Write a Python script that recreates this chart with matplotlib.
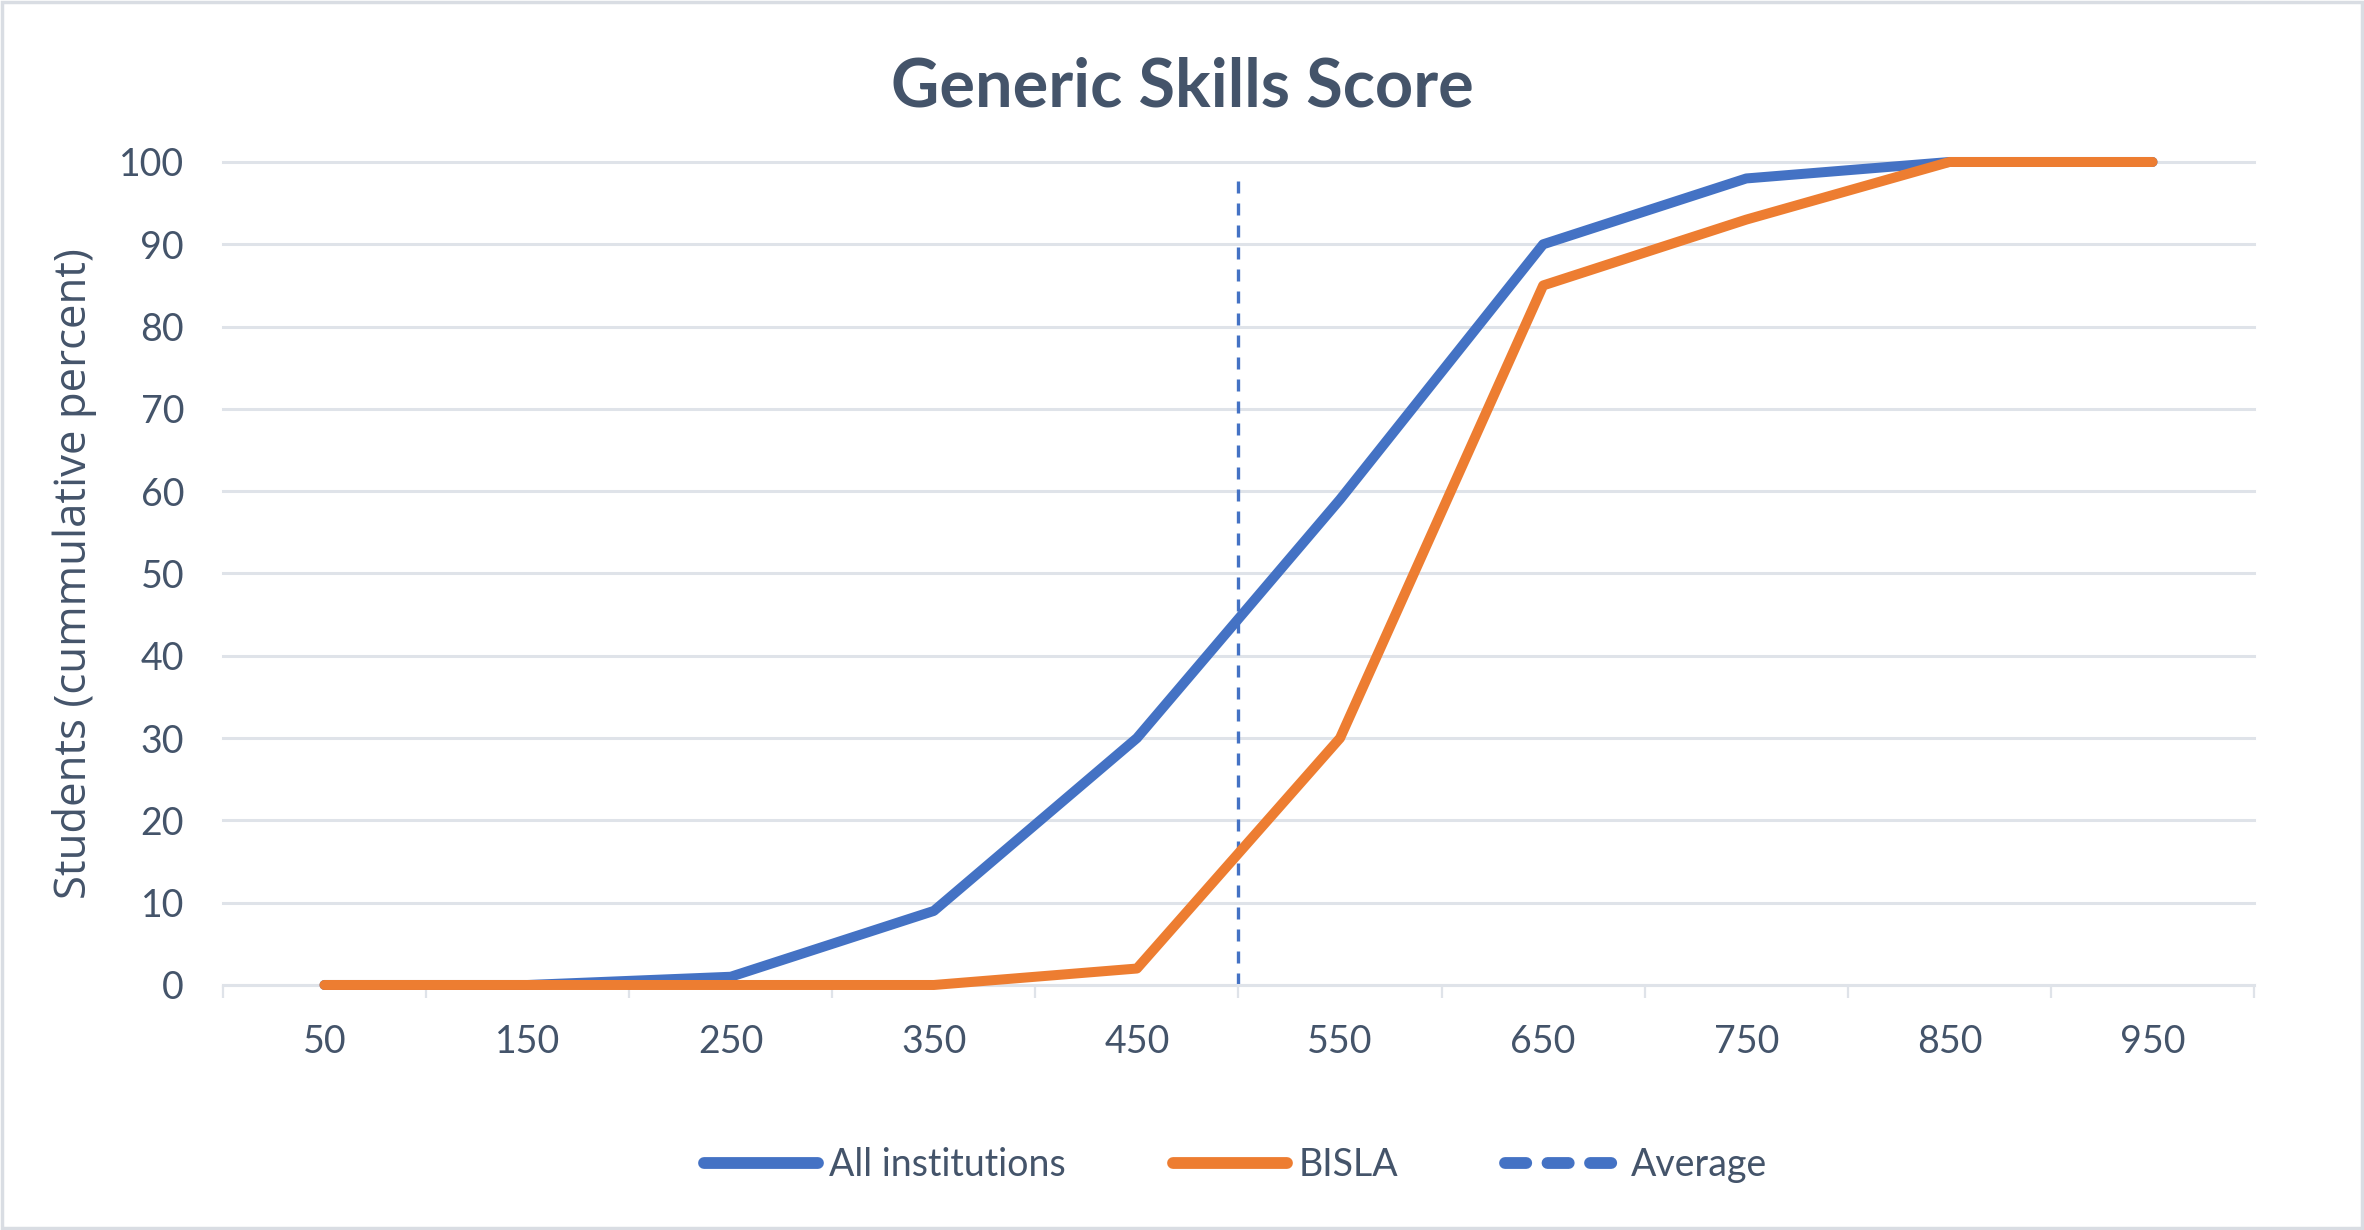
import matplotlib.pyplot as plt
from matplotlib import font_manager
from matplotlib.lines import Line2D
from matplotlib.patches import Rectangle

# score bands (category axis) and cumulative percent of students
scores = ['50', '150', '250', '350', '450', '550', '650', '750', '850', '950']
all_institutions = [0, 0, 1, 9, 30, 59, 90, 98, 100, 100]
bisla = [0, 0, 0, 0, 2, 30, 85, 93, 100, 100]
avg_score = 500
avg_top = 98

blue = '#4472C4'
orange = '#ED7D31'
text_col = '#44546A'
grid_col = '#DFE3E9'

# Calibri is not around; Lato (what Carlito is built on) is the closest
installed = {f.name for f in font_manager.fontManager.ttflist}
main_font = 'Lato' if 'Lato' in installed else 'DejaVu Sans'
plt.rcParams['font.family'] = [main_font, 'DejaVu Sans']

fig = plt.figure(figsize=(23.64, 12.30), dpi=100)
ax = fig.add_axes([0.0943, 0.1992, 0.8592, 0.6691])

x = list(range(len(scores)))
ax.plot(x, all_institutions, color=blue, lw=7.2, solid_joinstyle='round',
        solid_capstyle='round', clip_on=False, zorder=3, label='All institutions')
ax.plot(x, bisla, color=orange, lw=7.2, solid_joinstyle='round',
        solid_capstyle='round', clip_on=False, zorder=4, label='BISLA')

# average sits between category bands -> map score onto the category scale
avg_x = (avg_score - 50) / 100
ax.plot([avg_x, avg_x], [0, avg_top], color=blue, lw=2.4, dashes=(3.6, 3.0),
        zorder=2, clip_on=False, label='Average')

ax.set_xlim(-0.5, len(scores) - 0.5)
ax.set_ylim(0, 100)
ax.set_yticks(range(0, 101, 10))
ax.set_xticks(x)
ax.set_xticklabels(scores)
ax.set_xticks([i - 0.5 for i in range(len(scores) + 1)], minor=True)
ax.grid(axis='y', color=grid_col, lw=2.2, zorder=0)
ax.set_axisbelow(True)
for g in ax.get_ygridlines():
    g.set_clip_on(False)

for s in ['top', 'right', 'left']:
    ax.spines[s].set_visible(False)
ax.spines['bottom'].set_color(grid_col)
ax.spines['bottom'].set_linewidth(2.2)

ax.tick_params(axis='y', length=0, pad=28, labelsize=27, labelcolor=text_col)
ax.tick_params(axis='x', which='major', length=0, pad=28, labelsize=27,
               labelcolor=text_col)
ax.tick_params(axis='x', which='minor', length=9, width=1.6, color=grid_col)

ax.set_ylabel('Students (cummulative percent)', fontsize=31.5, color=text_col,
              family=['Open Sans', 'DejaVu Sans'], labelpad=16)

fig.text(0.5, 0.929, 'Generic Skills Score', ha='center', va='center',
         fontsize=48, fontweight='bold', color=text_col)

handles = [
    Line2D([], [], color=blue, lw=8.5, solid_capstyle='round'),
    Line2D([], [], color=orange, lw=8.5, solid_capstyle='round'),
    Line2D([], [], color=blue, lw=8.5, dashes=(1.8, 1.8), dash_capstyle='round'),
]
labels = ['All institutions', 'BISLA', 'Average']
leg = fig.legend(handles, labels, loc='center', bbox_to_anchor=(0.5225, 0.053),
                 ncol=3, frameon=False, fontsize=27, handlelength=3.05,
                 handletextpad=0.3, columnspacing=2.85)
for t in leg.get_texts():
    t.set_color(text_col)

fig.patches.append(Rectangle((0.001, 0.002), 0.998, 0.996, transform=fig.transFigure,
                             fill=False, edgecolor='#D9DDE3', lw=2.5))

fig.savefig('out.png', dpi=100, facecolor='white')
